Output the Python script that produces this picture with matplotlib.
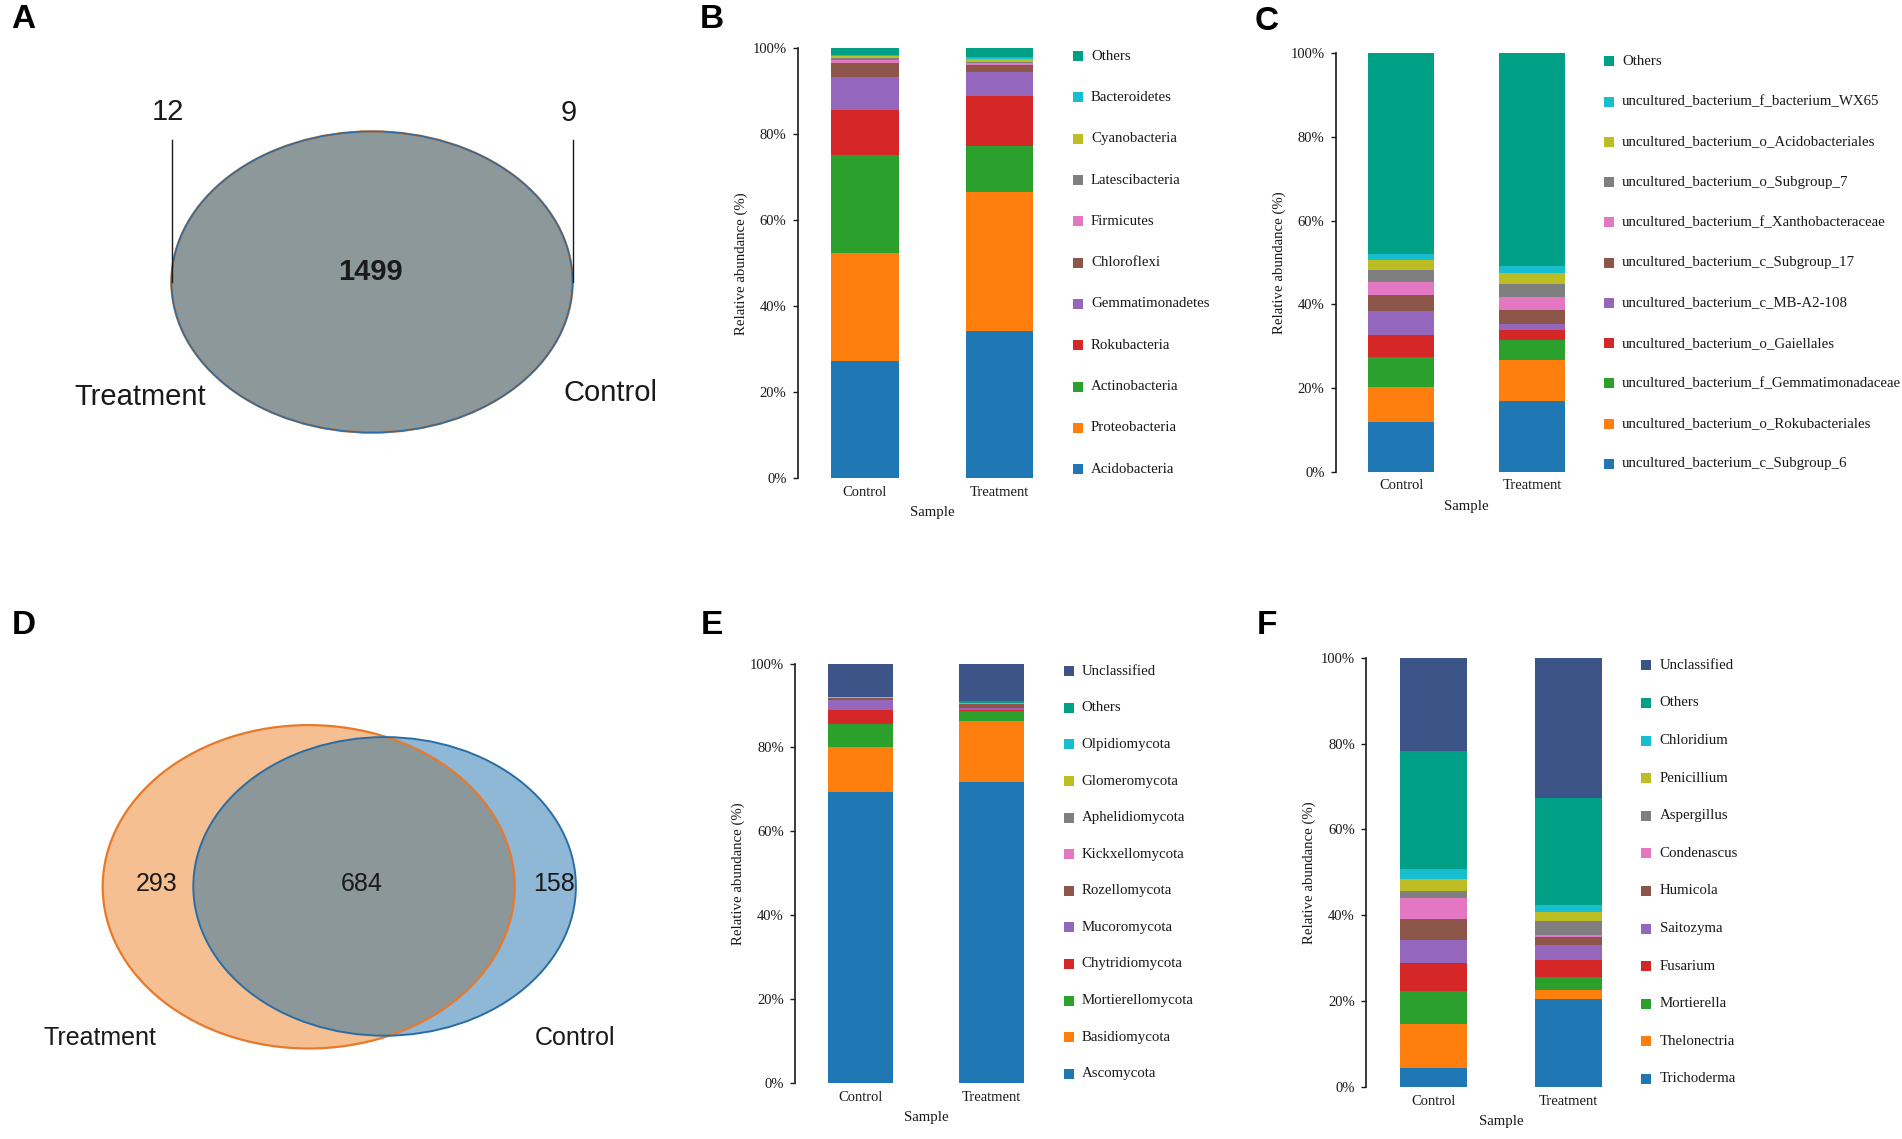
import numpy as np
import matplotlib
matplotlib.use('Agg')
import matplotlib.pyplot as plt
from matplotlib.patches import Ellipse, Rectangle

W, H = 1902, 1139

# ---- data ----
samples = ['Control', 'Treatment']

# Venn counts: treatment only, shared, control only
venn_a = [12, 1499, 9]
venn_d = [293, 684, 158]

# bacteria, phylum level (bottom of stack first)
phyla_b = ['Acidobacteria', 'Proteobacteria', 'Actinobacteria', 'Rokubacteria',
           'Gemmatimonadetes', 'Chloroflexi', 'Firmicutes', 'Latescibacteria',
           'Cyanobacteria', 'Bacteroidetes', 'Others']
phyla_b_control = [27.3, 25.2, 22.7, 10.5, 7.7, 3.1, 0.8, 0.5, 0.4, 0.3, 1.5]
phyla_b_treatment = [34.4, 32.2, 10.8, 11.4, 5.7, 1.6, 0.5, 0.3, 0.5, 0.5, 2.1]

# bacteria, genus level
genus_b = ['uncultured_bacterium_c_Subgroup_6', 'uncultured_bacterium_o_Rokubacteriales',
           'uncultured_bacterium_f_Gemmatimonadaceae', 'uncultured_bacterium_o_Gaiellales',
           'uncultured_bacterium_c_MB-A2-108', 'uncultured_bacterium_c_Subgroup_17',
           'uncultured_bacterium_f_Xanthobacteraceae', 'uncultured_bacterium_o_Subgroup_7',
           'uncultured_bacterium_o_Acidobacteriales', 'uncultured_bacterium_f_bacterium_WX65',
           'Others']
genus_b_control = [11.8, 8.5, 7.1, 5.3, 5.7, 3.7, 3.2, 2.9, 2.3, 1.5, 48.0]
genus_b_treatment = [16.9, 9.7, 4.9, 2.4, 1.4, 3.4, 3.1, 3.1, 2.5, 1.7, 50.9]

# fungi, phylum level
phyla_f = ['Ascomycota', 'Basidiomycota', 'Mortierellomycota', 'Chytridiomycota',
           'Mucoromycota', 'Rozellomycota', 'Kickxellomycota', 'Aphelidiomycota',
           'Glomeromycota', 'Olpidiomycota', 'Others', 'Unclassified']
phyla_f_control = [69.5, 10.7, 5.5, 3.3, 2.4, 0.4, 0.05, 0.05, 0.05, 0.05, 0.1, 7.9]
phyla_f_treatment = [71.8, 14.5, 2.4, 0.2, 0.5, 0.9, 0.2, 0.1, 0.05, 0.05, 0.3, 9.0]

# fungi, genus level
genus_f = ['Trichoderma', 'Thelonectria', 'Mortierella', 'Fusarium', 'Saitozyma',
           'Humicola', 'Condenascus', 'Aspergillus', 'Penicillium', 'Chloridium',
           'Others', 'Unclassified']
genus_f_control = [4.5, 10.2, 7.6, 6.5, 5.4, 5.0, 4.9, 1.6, 2.7, 2.4, 27.4, 21.8]
genus_f_treatment = [20.5, 2.0, 3.1, 4.0, 3.5, 1.9, 0.5, 3.1, 2.2, 1.7, 24.8, 32.7]

palette = ['#1f77b4', '#ff7f0e', '#2ca02c', '#d62728', '#9467bd', '#8c564b',
           '#e377c2', '#7f7f7f', '#bcbd22', '#17becf']
c_others = '#00A087'
c_unclass = '#3C5488'

sans = 'Liberation Sans'
serif = 'Liberation Serif'
txt_col = '#1a1a1a'

fig = plt.figure(figsize=(W / 100, H / 100), dpi=100)


def px_axes(x0, y0, x1, y1):
    # axes whose data coords are figure pixels
    ax = fig.add_axes([x0 / W, 1 - y1 / H, (x1 - x0) / W, (y1 - y0) / H])
    ax.set_xlim(x0, x1)
    ax.set_ylim(y1, y0)
    ax.axis('off')
    return ax


def bar_panel(geom, names, control, treatment, colors, leg):
    axis_x, top, bottom, unit = geom
    ax = fig.add_axes([axis_x / W, 1 - bottom / H, 2 * unit / W, (bottom - top) / H])
    xs = np.arange(len(samples))
    base = np.zeros(len(samples))
    for name, c, t, col in zip(names, control, treatment, colors):
        v = np.array([c, t])
        ax.bar(xs, v, 0.5, bottom=base, color=col, label=name, linewidth=0)
        base += v
    ax.set_xlim(-0.5, 1.5)
    ax.set_ylim(0, 100)
    for s in ['top', 'right', 'bottom']:
        ax.spines[s].set_visible(False)
    ax.spines['left'].set_linewidth(1.2)
    ax.spines['left'].set_color(txt_col)
    ax.set_yticks([0, 20, 40, 60, 80, 100])
    ax.set_yticklabels(['0%', '20%', '40%', '60%', '80%', '100%'])
    ax.set_xticks(xs)
    ax.set_xticklabels(samples)
    ax.tick_params(axis='y', length=3.5, width=1, pad=4.5, labelsize=10.5, colors=txt_col)
    ax.tick_params(axis='x', length=0, pad=5.5, labelsize=10.5, colors=txt_col)
    for lab in ax.get_xticklabels() + ax.get_yticklabels():
        lab.set_family(serif)
    h = bottom - top
    ax.set_ylabel('Relative abundance (%)', family=serif, fontsize=10.7, color=txt_col)
    ax.yaxis.set_label_coords(-50 / (2 * unit), 0.5)
    ax.set_xlabel('Sample', family=serif, fontsize=10.7, color=txt_col)
    ax.xaxis.set_label_coords(0.5, -28 / h)

    # legend, top row = last stacked category
    sq_x, tx, row0, pitch = leg
    for i, (name, col) in enumerate(zip(names[::-1], colors[::-1])):
        y = row0 + i * pitch
        fig.add_artist(Rectangle((sq_x / W, 1 - (y + 5) / H), 10 / W, 10 / H,
                                 transform=fig.transFigure, color=col, lw=0))
        fig.text(tx / W, 1 - y / H, name, va='center', ha='left',
                 family=serif, fontsize=10.7, color=txt_col)
    return ax


# ---- A: Venn, bacteria ----
ax = px_axes(0, 60, 700, 480)
ax.add_patch(Ellipse((372, 282), 401, 301, facecolor='#8D989B', edgecolor='#E8812E', lw=1.8))
ax.add_patch(Ellipse((372, 282), 401, 301, facecolor='none', edgecolor='#2E6DA4', lw=1.3))
ax.plot([171.5, 171.5], [140, 282], color=txt_col, lw=1)
ax.plot([572.5, 572.5], [140, 282], color=txt_col, lw=1)
ax.text(168, 112, str(venn_a[0]), ha='center', va='center', fontsize=21, family=sans, color=txt_col)
ax.text(569, 113, str(venn_a[2]), ha='center', va='center', fontsize=21, family=sans, color=txt_col)
ax.text(370, 272, str(venn_a[1]), ha='center', va='center', fontsize=21, family=sans,
        weight='bold', color=txt_col)
ax.text(140.6, 397, samples[1], ha='center', va='center', fontsize=21, family=sans, color=txt_col)
ax.text(610.7, 393, samples[0], ha='center', va='center', fontsize=21, family=sans, color=txt_col)

# ---- D: Venn, fungi ----
ax = px_axes(0, 680, 700, 1100)
e_t = Ellipse((308.7, 886.8), 412, 323.4, facecolor='#F5BF92', edgecolor='none')
e_c = Ellipse((384.6, 886.4), 382.6, 298.6, facecolor='#8FB7D6', edgecolor='none')
ax.add_patch(e_t)
ax.add_patch(e_c)
both = Ellipse((384.6, 886.4), 382.6, 298.6, facecolor='#8C9799', edgecolor='none')
ax.add_patch(both)
both.set_clip_path(e_t)
ax.add_patch(Ellipse((308.7, 886.8), 412, 323.4, facecolor='none', edgecolor='#E8792B', lw=1.6))
ax.add_patch(Ellipse((384.6, 886.4), 382.6, 298.6, facecolor='none', edgecolor='#2A6DA6', lw=1.4))
ax.text(156.3, 884, str(venn_d[0]), ha='center', va='center', fontsize=18, family=sans, color=txt_col)
ax.text(361.6, 884, str(venn_d[1]), ha='center', va='center', fontsize=18, family=sans, color=txt_col)
ax.text(553.6, 884, str(venn_d[2]), ha='center', va='center', fontsize=18, family=sans, color=txt_col)
ax.text(100.4, 1038, samples[1], ha='center', va='center', fontsize=18, family=sans, color=txt_col)
ax.text(575, 1038, samples[0], ha='center', va='center', fontsize=18, family=sans, color=txt_col)

# ---- stacked bars ----
col11 = palette + [c_others]
col12 = palette + [c_others, c_unclass]
bar_panel((797.7, 48.3, 478.5, 134.5), phyla_b, phyla_b_control, phyla_b_treatment,
          col11, (1073.1, 1091.1, 56.1, 41.3))
bar_panel((1335.7, 53.3, 471.6, 131), genus_b, genus_b_control, genus_b_treatment,
          col11, (1604.3, 1622.1, 61.4, 40.26))
bar_panel((794.9, 663.6, 1083, 131), phyla_f, phyla_f_control, phyla_f_treatment,
          col12, (1063.6, 1081.6, 671.2, 36.6))
bar_panel((1366, 657.7, 1087, 135), genus_f, genus_f_control, genus_f_treatment,
          col12, (1640.9, 1659.6, 665.3, 37.6))

# panel letters
for letter, (lx, ly) in zip('ABCDEF', [(23.5, 20), (712, 20), (1266.5, 21),
                                        (24, 625.5), (711.5, 625), (1267, 625)]):
    fig.text(lx / W, 1 - ly / H, letter, ha='center', va='center', fontsize=24,
             weight='bold', family=sans, color='black')

plt.savefig('out.png', dpi=100)
